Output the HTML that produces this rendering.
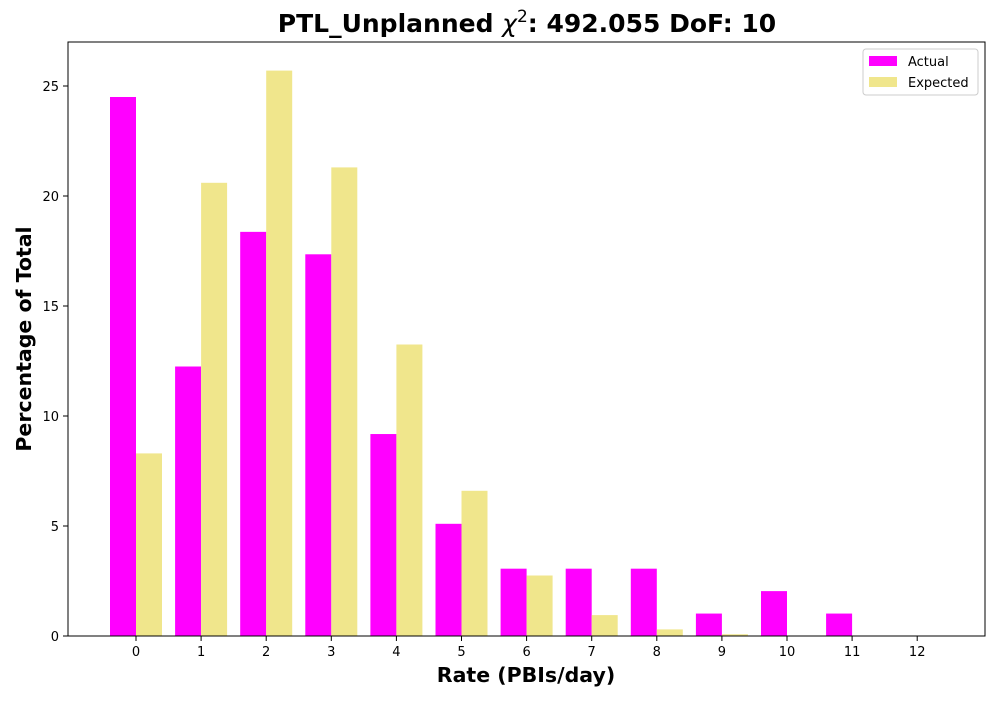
<!DOCTYPE html>
<html><head><meta charset="utf-8"><style>
body{margin:0;background:#fff;font-family:"DejaVu Sans","Liberation Sans",sans-serif}
</style></head><body>
<svg width="1000" height="700" xmlns="http://www.w3.org/2000/svg" font-family="DejaVu Sans, Liberation Sans, sans-serif">
<rect width="1000" height="700" fill="#fff"/>
<g id="bars"></g>
<rect x="68" y="42" width="917" height="594" fill="none" stroke="#000" stroke-width="1"/>
<g id="xt" font-size="13" text-anchor="middle"></g>
<g id="yt" font-size="13" text-anchor="end"></g>
<text x="527" y="32" font-size="25" font-weight="bold" text-anchor="middle">PTL_Unplanned <tspan font-style="italic" font-weight="normal">χ</tspan><tspan font-size="17" dy="-10" font-weight="normal">2</tspan><tspan dy="10">: 492.055 DoF: 10</tspan></text>
<text x="526" y="682" font-size="20.5" font-weight="bold" text-anchor="middle">Rate (PBIs/day)</text>
<text transform="translate(31,339) rotate(-90)" font-size="20.5" font-weight="bold" text-anchor="middle">Percentage of Total</text>
<g>
<rect x="863" y="49" width="115" height="46" fill="#fff" stroke="#ccc" rx="3"/>
<rect x="869" y="56" width="28" height="10" fill="#ff00ff"/>
<text x="908" y="66" font-size="13">Actual</text>
<rect x="869" y="77" width="28" height="10" fill="#f0e68c"/>
<text x="908" y="87" font-size="13">Expected</text>
</g>
</svg>
<script>
const categories=[0,1,2,3,4,5,6,7,8,9,10,11,12];
const actual=[24.5,12.25,18.37,17.35,9.18,5.1,3.06,3.06,3.06,1.02,2.04,1.02,0];
const expected=[8.3,20.6,25.7,21.3,13.25,6.6,2.75,0.95,0.3,0.08,0.02,0.005,0];
const yTicks=[0,5,10,15,20,25];
const NS="http://www.w3.org/2000/svg";
const xS=v=>136+v*65.1, yS=v=>636-v*22, bw=26;
const bars=document.getElementById('bars'),xt=document.getElementById('xt'),yt=document.getElementById('yt');
function mk(tag,attrs,parent){const e=document.createElementNS(NS,tag);for(const k in attrs)e.setAttribute(k,attrs[k]);parent.appendChild(e);return e;}
categories.forEach((c,i)=>{
 const a=mk('rect',{x:xS(c)-bw,y:yS(actual[i]),width:bw,height:636-yS(actual[i]),fill:'#ff00ff'},bars);
 
 
 const e=mk('rect',{x:xS(c),y:yS(expected[i]),width:bw,height:636-yS(expected[i]),fill:'#f0e68c'},bars);
 
 
 mk('line',{x1:xS(c),x2:xS(c),y1:636,y2:641,stroke:'#000'},xt);
 const t=mk('text',{x:xS(c),y:656},xt);t.textContent=c;
 
 
});
yTicks.forEach(v=>{
 mk('line',{x1:63,x2:68,y1:yS(v),y2:yS(v),stroke:'#000'},yt);
 const t=mk('text',{x:59,y:yS(v)+5},yt);t.textContent=v;
 
 
});
</script>
</body></html>
